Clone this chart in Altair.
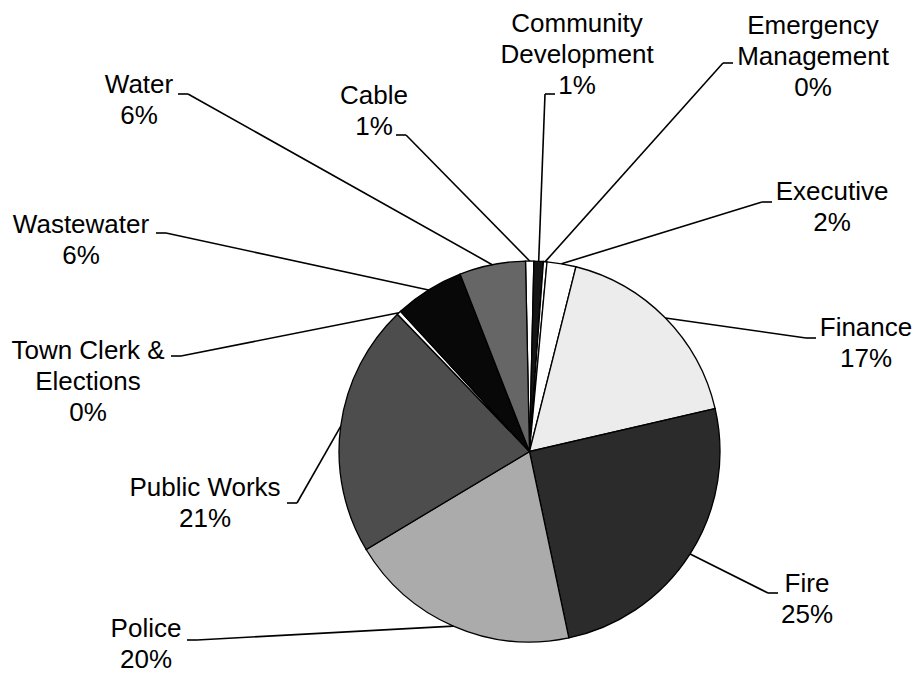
import math
import altair as alt
import pandas as pd

# ---------------- data ----------------
categories = ["Cable", "Community Development", "Emergency Management", "Executive",
              "Finance", "Fire", "Police", "Public Works", "Town Clerk & Elections",
              "Wastewater", "Water"]
label_names = ["Cable", "Community\nDevelopment", "Emergency\nManagement", "Executive",
               "Finance", "Fire", "Police", "Public Works", "Town Clerk &\nElections",
               "Wastewater", "Water"]
values = [0.7, 0.8, 0.3, 2.45, 17.45, 25.3, 19.7, 21.4, 0.35, 5.9, 5.6]

# ---------------- styles / layout ----------------
fills = ["#ffffff", "#151515", "#ffffff", "#ffffff", "#ececec", "#2b2b2b",
         "#ababab", "#4d4d4d", "#ffffff", "#080808", "#666666"]

W, H = 905, 669
CX, CY, R = 529.5, 451.5, 190.5          # pie centre / radius (page pixels)
START = math.radians(-1.2)               # first slice start angle
LH = 31.0                                # label line height
FONT = "Liberation Sans"
FS = 26

# label first-line centre (page pixels)
label_center = {
    "Cable": (374, 96), "Community Development": (577, 24), "Emergency Management": (813, 26),
    "Executive": (832, 192), "Finance": (866, 328), "Fire": (807, 584), "Police": (146, 629),
    "Public Works": (205, 488), "Town Clerk & Elections": (88, 351), "Wastewater": (81, 225),
    "Water": (139, 85),
}
# leader-line elbow point and direction of the short horizontal tick
leader_elbow = {
    "Cable": (406, 135, -1), "Community Development": (545, 94, 1),
    "Emergency Management": (723, 63, 1), "Executive": (762, 202, 1),
    "Finance": (806, 338, 1), "Fire": (768, 593, 1), "Police": (197, 640, -1),
    "Public Works": (297, 503, -1), "Town Clerk & Elections": (181, 356, -1),
    "Wastewater": (166, 233, -1), "Water": (188, 94, -1),
}
TICK = 10

total = sum(values)
df = pd.DataFrame({
    "category": categories,
    "value": values,
    "idx": list(range(len(categories))),
    "ex": [leader_elbow[c][0] for c in categories],
    "ey": [leader_elbow[c][1] for c in categories],
    "tx": [leader_elbow[c][0] + leader_elbow[c][2] * TICK for c in categories],
})

rows = []
for c, name, v in zip(categories, label_names, values):
    lines = name.split("\n") + [f"{round(v / total * 100)}%"]
    x0, y0 = label_center[c]
    for j, t in enumerate(lines):
        rows.append({"category": c, "text": t, "x": x0, "y": y0 + j * LH})
text_df = pd.DataFrame(rows)

xs = alt.Scale(domain=[8, 8 + W], nice=False, zero=False)
ys = alt.Scale(domain=[8, 8 + H], reverse=True, nice=False, zero=False)

arc = alt.Chart(df).mark_arc(outerRadius=R, stroke="black", strokeWidth=1.3).encode(
    theta=alt.Theta("value:Q", stack=True,
                    scale=alt.Scale(range=[START, START + 2 * math.pi])),
    color=alt.Color("category:N", scale=alt.Scale(domain=categories, range=fills), legend=None),
    order=alt.Order("idx:Q"),
    x=alt.value(CX - 8),
    y=alt.value(CY - 8),
)

leader = alt.Chart(df).transform_joinaggregate(
    total="sum(value)"
).transform_window(
    cum="sum(value)", sort=[alt.SortField("idx")], frame=[None, 0]
).transform_calculate(
    mid=f"{START} + 2*PI*(datum.cum - datum.value/2)/datum.total",
    sx=f"{CX} + {R}*sin(datum.mid)",
    sy=f"{CY} - {R}*cos(datum.mid)",
).mark_rule(color="black", strokeWidth=1.6).encode(
    x=alt.X("sx:Q", scale=xs, axis=None),
    y=alt.Y("sy:Q", scale=ys, axis=None),
    x2="ex:Q",
    y2="ey:Q",
)

tick = alt.Chart(df).mark_rule(color="black", strokeWidth=1.6).encode(
    x=alt.X("ex:Q", scale=xs, axis=None),
    x2="tx:Q",
    y=alt.Y("ey:Q", scale=ys, axis=None),
)

labels = alt.Chart(text_df).mark_text(
    font=FONT, fontSize=FS, align="center", baseline="middle", color="black"
).encode(
    x=alt.X("x:Q", scale=xs, axis=None),
    y=alt.Y("y:Q", scale=ys, axis=None),
    text="text:N",
)

chart = alt.layer(arc, leader, tick, labels).properties(
    width=W, height=H, padding=0, autosize="none"
).configure_view(stroke=None)

chart.save("out.html", embed_options={"renderer": "svg", "actions": False})
